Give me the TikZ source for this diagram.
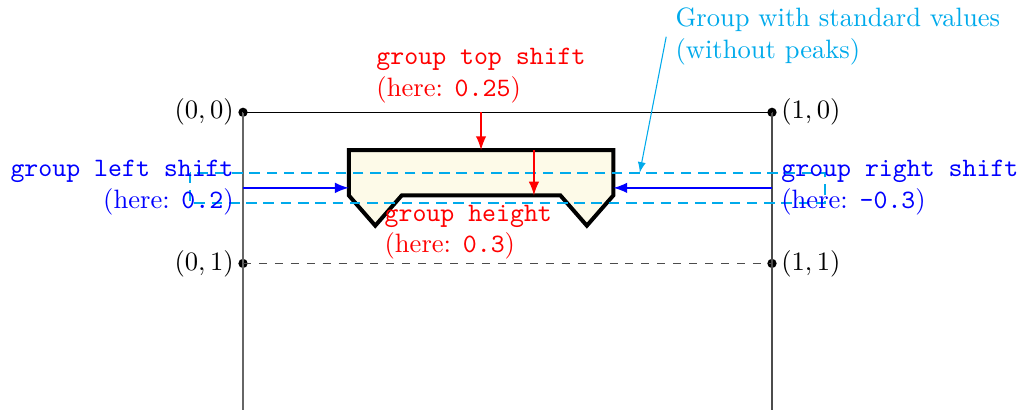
\documentclass[tikz,border=0pt]{standalone}
\usetikzlibrary{arrows,positioning}

\definecolor{stdcyan}{RGB}{0,170,235}
\definecolor{groupfill}{RGB}{253,250,232}

\begin{document}
\begin{tikzpicture}[x=7cm, y=-2cm,
    corner/.style={circle, fill=black, inner sep=0pt, minimum size=3.5pt},
    shiftarrow/.style={thick, -latex},
    note/.style={align=left, inner sep=3.33pt}]
  \useasboundingbox (-0.4594,-0.743) rectangle (1.4726,1.967);

  % page corners
  \coordinate (b0) at (0,1.967);
  \coordinate (b1) at (1,1.967);
  \node[corner] (c00) at (0,0) {};
  \node[corner] (c10) at (1,0) {};
  \node[corner] (c01) at (0,1) {};
  \node[corner] (c11) at (1,1) {};
  \draw[black!60] (c00.center) -- (b0);
  \draw[black!70] (c10.center) -- (b1);
  \draw (c00.center) -- (c10.center);
  \draw[black!70, dashed] (c01.center) -- (c11.center);
  \node[left=0pt of c00.center] (l00) {$(0,0)$};
  \node[right=0pt of c10.center] (l10) {$(1,0)$};
  \node[left=0pt of c01.center] (l01) {$(0,1)$};
  \node[right=0pt of c11.center] (l11) {$(1,1)$};

  % the group
  \draw[line width=1.5pt, fill=groupfill] (0.2,0.25) -- (0.7,0.25) -- (0.7,0.55)
    -- (0.65,0.75) -- (0.6,0.55) -- (0.3,0.55) -- (0.25,0.75) -- (0.2,0.55) -- cycle;
  \draw[stdcyan, thick, dash pattern=on 4pt off 2.5pt] (-0.1,0.4) rectangle (1.1,0.6);

  \coordinate (ts0) at (0.45,0);
  \coordinate (ts1) at (0.45,0.25);
  \coordinate (gh0) at (0.55,0.25);
  \coordinate (gh1) at (0.55,0.55);
  \coordinate (ls0) at (0,0.5);
  \coordinate (ls1) at (0.2,0.5);
  \coordinate (rs0) at (1,0.5);
  \coordinate (rs1) at (0.7,0.5);
  \coordinate (stdtip) at (0.75,0.4);
  \draw[shiftarrow, red] (ts0) -- (ts1);
  \draw[shiftarrow, red] (gh0) -- (gh1);
  \draw[shiftarrow, blue] (ls0) -- (ls1);
  \draw[shiftarrow, blue] (rs0) -- (rs1);

  \node[note, text=red, anchor=south] (topshift) at (ts0)
    {\texttt{group top shift}\\(here: \texttt{0.25})};
  \node[note, text=red, anchor=north west] (height) at (0.25,0.55)
    {\texttt{group height}\\(here: \texttt{0.3})};
  \node[note, text=blue, align=right, anchor=east] (leftshift) at (ls0)
    {\texttt{group left shift}\\(here: \texttt{0.2})};
  \node[note, text=blue, anchor=west] (rightshift) at (rs0)
    {\texttt{group right shift}\\(here: \texttt{-0.3})};
  \node[note, text=stdcyan, anchor=west] (std) at (0.8,-0.5)
    {Group with standard values\\(without peaks)};
  \draw[stdcyan, -latex] (std.west) -- (stdtip);
\end{tikzpicture}
\end{document}
